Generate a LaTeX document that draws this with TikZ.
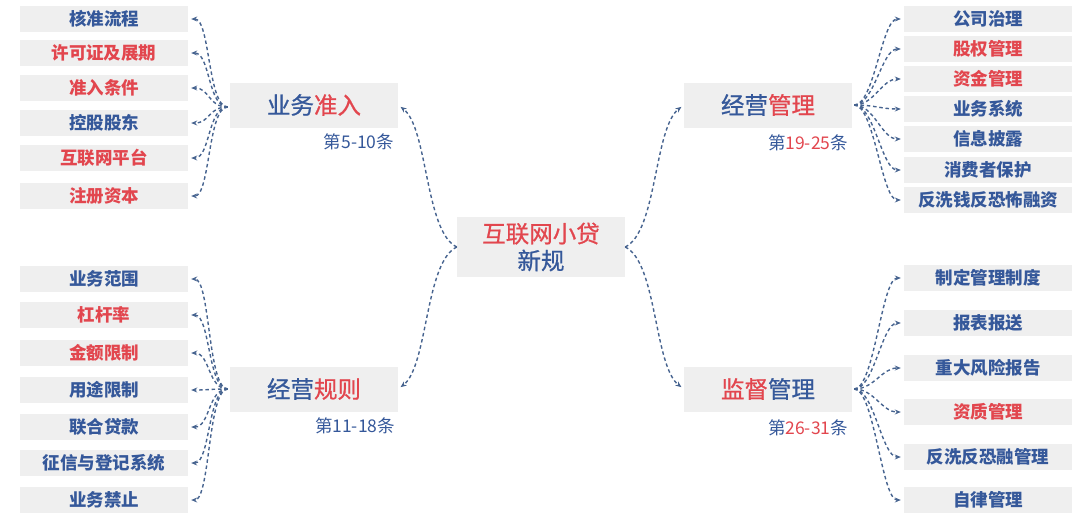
\documentclass[tikz,border=0pt]{standalone}
\usepackage{fontspec}
\newfontfamily\cjk{Noto Sans CJK SC}
\newfontfamily\cjkm{Noto Sans CJK SC}[FakeBold=0.8]
\usetikzlibrary{arrows.meta}
\definecolor{tblue}{HTML}{35589A}
\definecolor{tred}{HTML}{E2464E}
\definecolor{boxgray}{HTML}{EFEFEF}
\definecolor{conn}{HTML}{46638F}
\newcommand{\B}[1]{\textcolor{tblue}{#1}}
\newcommand{\R}[1]{\textcolor{tred}{#1}}
\begin{document}
\begin{tikzpicture}[x=1pt,y=-1pt,
  leaf/.style={fill=boxgray, minimum width=168pt, minimum height=26pt, inner sep=0pt, font=\cjk\bfseries\fontsize{17.5pt}{20pt}\selectfont, text=tblue},
  branch/.style={fill=boxgray, minimum width=168pt, minimum height=45pt, inner sep=0pt, font=\cjkm\fontsize{23.5pt}{26pt}\selectfont},
  hub/.style={fill=boxgray, minimum width=168pt, minimum height=60pt, inner sep=0pt, align=center, font=\cjkm\fontsize{23.5pt}{27pt}\selectfont},
  lab/.style={inner sep=0pt, font=\cjk\fontsize{17.5pt}{19pt}\selectfont, text=tblue},
  link/.style={draw=conn, line width=1.4pt, dash pattern=on 3.5pt off 2.8pt, -{Stealth[length=6pt,width=5pt]}, shorten >=3pt},
]
\useasboundingbox (0,0) rectangle (1080,523);

% centre
\node[hub] (c) at (541,247) {\R{互联网小贷}\\\B{新规}};

% branches
\node[branch] (b1) at (314,105) {\B{业务}\R{准入}};
\node[branch] (b2) at (314,389) {\B{经营}\R{规则}};
\node[branch] (b3) at (768,105) {\B{经营}\R{管理}};
\node[branch] (b4) at (768,389) {\R{监督}\B{管理}};

\node[lab] (t1) at (359,142) {第5-10条};
\node[lab] (t2) at (355,426) {第11-18条};
\node[lab] (t3) at (808,143) {第\R{19-25}条};
\node[lab] (t4) at (808,428) {第\R{26-31}条};

% left top leaves
\node[leaf] (a1) at (104,19) {核准流程};
\node[leaf,text=tred] (a2) at (104,53) {许可证及展期};
\node[leaf,text=tred] (a3) at (104,88) {准入条件};
\node[leaf] (a4) at (104,123) {控股股东};
\node[leaf,text=tred] (a5) at (104,158) {互联网平台};
\node[leaf,text=tred] (a6) at (104,196) {注册资本};

% left bottom leaves
\node[leaf] (d1) at (104,279) {业务范围};
\node[leaf,text=tred] (d2) at (104,315) {杠杆率};
\node[leaf,text=tred] (d3) at (104,353) {金额限制};
\node[leaf] (d4) at (104,390) {用途限制};
\node[leaf] (d5) at (104,427) {联合贷款};
\node[leaf] (d6) at (104,463) {征信与登记系统};
\node[leaf] (d7) at (104,500) {业务禁止};

% right top leaves
\node[leaf] (e1) at (988,19) {公司治理};
\node[leaf,text=tred] (e2) at (988,49) {股权管理};
\node[leaf,text=tred] (e3) at (988,79) {资金管理};
\node[leaf] (e4) at (988,109) {业务系统};
\node[leaf] (e5) at (988,139) {信息披露};
\node[leaf] (e6) at (988,170) {消费者保护};
\node[leaf] (e7) at (988,200) {反洗钱反恐怖融资};

% right bottom leaves
\node[leaf] (f1) at (988,278) {制定管理制度};
\node[leaf] (f2) at (988,323) {报表报送};
\node[leaf] (f3) at (988,368) {重大风险报告};
\node[leaf,text=tred] (f4) at (988,412) {资质管理};
\node[leaf] (f5) at (988,457) {反洗反恐融管理};
\node[leaf] (f6) at (988,500) {自律管理};

% centre to branches
\draw[link] (c.west) .. controls (425,232) and (428,128) .. (b1.east);
\draw[link] (c.west) .. controls (425,262) and (428,366) .. (b2.east);
\draw[link] (c.east) .. controls (657,232) and (654,128) .. (b3.west);
\draw[link] (c.east) .. controls (657,262) and (654,366) .. (b4.west);

% branch to leaves
\foreach \n in {a1,a2,a3,a4,a5,a6}
  \draw[link, shorten <=2pt] ([yshift=-2pt]b1.west) .. controls +(-22,0) and +(22,0) .. (\n.east);
\foreach \n in {d1,d2,d3,d4,d5,d6,d7}
  \draw[link, shorten <=2pt] (b2.west) .. controls +(-22,0) and +(22,0) .. (\n.east);
\foreach \n in {e1,e2,e3,e4,e5,e6,e7}
  \draw[link, shorten <=2pt] (b3.east) .. controls +(22,0) and +(-22,0) .. (\n.west);
\foreach \n in {f1,f2,f3,f4,f5,f6}
  \draw[link, shorten <=2pt] (b4.east) .. controls +(22,0) and +(-22,0) .. (\n.west);
\end{tikzpicture}
\end{document}
